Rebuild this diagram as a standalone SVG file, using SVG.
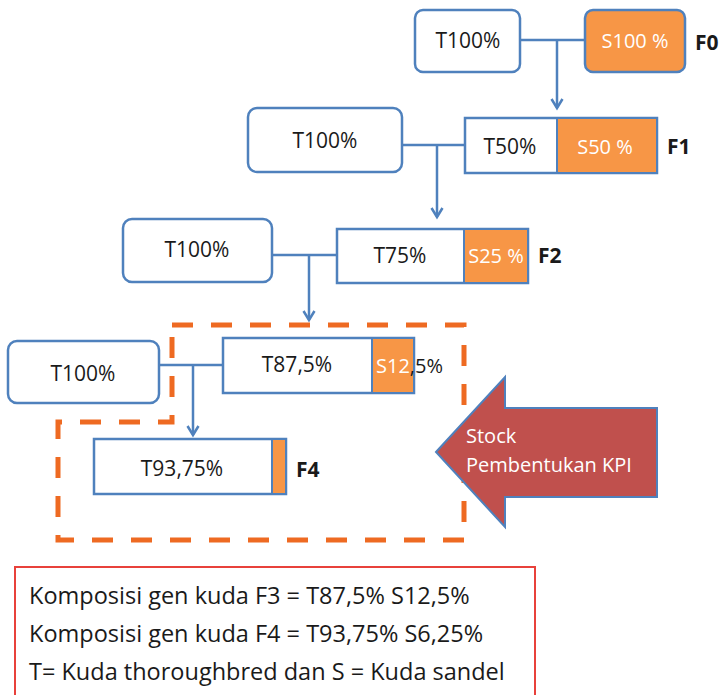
<svg xmlns="http://www.w3.org/2000/svg" width="725" height="695" viewBox="0 0 725 695">
<defs>
<style>
.box{fill:#ffffff;stroke:#4F81BD;stroke-width:2.5}
.sbox{fill:#F79646;stroke:#4F81BD;stroke-width:2.5}
.bar{fill:#ffffff;stroke:#4F81BD;stroke-width:2.5}
.bars{fill:#F79646;stroke:#4F81BD;stroke-width:2}
.t{font-family:"Open Sans","DejaVu Sans",sans-serif;font-size:21px;fill:#1a1a1a;text-anchor:middle}
.tw{font-family:"Open Sans","DejaVu Sans",sans-serif;font-size:20px;fill:#ffffff;text-anchor:middle}
.lab{font-family:"Open Sans","DejaVu Sans",sans-serif;font-size:21px;font-weight:bold;fill:#1a1a1a}
.conn{fill:none;stroke:#4F81BD;stroke-width:2.5}
.note{font-family:"Open Sans","DejaVu Sans",sans-serif;font-size:23.5px;fill:#1a1a1a}
.kt{font-family:"Open Sans","DejaVu Sans",sans-serif;font-size:20px;fill:#ffffff}
</style>
<marker id="ah" markerUnits="userSpaceOnUse" markerWidth="14" markerHeight="14" viewBox="0 0 14 14" refX="11" refY="7" orient="auto">
<path d="M2,1.5 L11,7 L2,12.5" fill="none" stroke="#4F81BD" stroke-width="2.5"/>
</marker>
</defs>
<rect width="725" height="695" fill="#ffffff"/>

<g id="connectors">
<path class="conn" d="M520,40 H585"/>
<path class="conn" d="M557,40 V108" marker-end="url(#ah)"/>
<path class="conn" d="M402,145 H465"/>
<path class="conn" d="M437,145 V217" marker-end="url(#ah)"/>
<path class="conn" d="M272,255 H337"/>
<path class="conn" d="M309,255 V320" marker-end="url(#ah)"/>
<path class="conn" d="M159,365 H223"/>
<path class="conn" d="M193,365 V435" marker-end="url(#ah)"/>
</g>

<g id="f0-t">
<rect class="box" x="415" y="10" width="105" height="62" rx="8"/>
<text class="t" x="468" y="48">T100%</text>
</g>
<g id="f0-s">
<rect class="sbox" x="585" y="10" width="100" height="62" rx="8"/>
<text class="tw" x="635" y="48">S100 %</text>
</g>
<g id="f0-label"><text class="lab" x="695" y="50">F0</text></g>

<g id="f1-t">
<rect class="box" x="248" y="108" width="154" height="64" rx="9"/>
<text class="t" x="325" y="148">T100%</text>
</g>
<g id="f1-bar">
<rect class="bar" x="465" y="118" width="192" height="55"/>
<rect class="bars" x="557" y="118" width="100" height="55"/>
<text class="t" x="510" y="154">T50%</text>
<text class="tw" x="605" y="154">S50 %</text>
</g>
<g id="f1-label"><text class="lab" x="667" y="154">F1</text></g>

<g id="f2-t">
<rect class="box" x="123" y="219" width="149" height="63" rx="9"/>
<text class="t" x="197" y="257">T100%</text>
</g>
<g id="f2-bar">
<rect class="bar" x="337" y="229" width="191" height="54"/>
<rect class="bars" x="464" y="229" width="64" height="54"/>
<text class="t" x="400" y="263">T75%</text>
<text class="tw" x="496" y="263">S25 %</text>
</g>
<g id="f2-label"><text class="lab" x="538" y="263">F2</text></g>

<g id="f3-t">
<rect class="box" x="8" y="341" width="151" height="62" rx="9"/>
<text class="t" x="83" y="381">T100%</text>
</g>
<g id="f3-bar">
<rect class="bar" x="223" y="338" width="191" height="55"/>
<rect class="bars" x="372" y="338" width="42" height="55"/>
<text class="t" x="297" y="372">T87,5%</text>
<text x="376" y="373" style="font-family:'Open Sans','DejaVu Sans',sans-serif;font-size:20px"><tspan fill="#ffffff">S12</tspan><tspan fill="#1a1a1a">,5%</tspan></text>
</g>

<g id="f4-bar">
<rect class="bar" x="94" y="439" width="192" height="55"/>
<rect class="bars" x="272" y="439" width="14" height="55"/>
<text class="t" x="182" y="476">T93,75%</text>
</g>
<g id="f4-label"><text class="lab" x="296" y="477">F4</text></g>

<g id="stock-region">
<path d="M172,325 H464 V540 H58 V422 H172 Z" fill="none" stroke="#EE6A22" stroke-width="5" stroke-dasharray="21 18"/>
</g>

<g id="kpi-arrow">
<path d="M436,452 L505,377 V408 H657 V497 H505 V527 Z" fill="#C0504D" stroke="#4F81BD" stroke-width="2"/>
<text class="kt" x="466" y="443">Stock</text>
<text class="kt" x="466" y="472">Pembentukan KPI</text>
</g>

<g id="legend">
<rect x="15" y="567" width="520" height="140" fill="#ffffff" stroke="#E8413B" stroke-width="2"/>
<text class="note" x="29" y="604">Komposisi gen kuda F3 = T87,5% S12,5%</text>
<text class="note" x="29" y="642">Komposisi gen kuda F4 = T93,75% S6,25%</text>
<text class="note" x="29" y="680">T= Kuda thoroughbred dan S = Kuda sandel</text>
</g>
</svg>
